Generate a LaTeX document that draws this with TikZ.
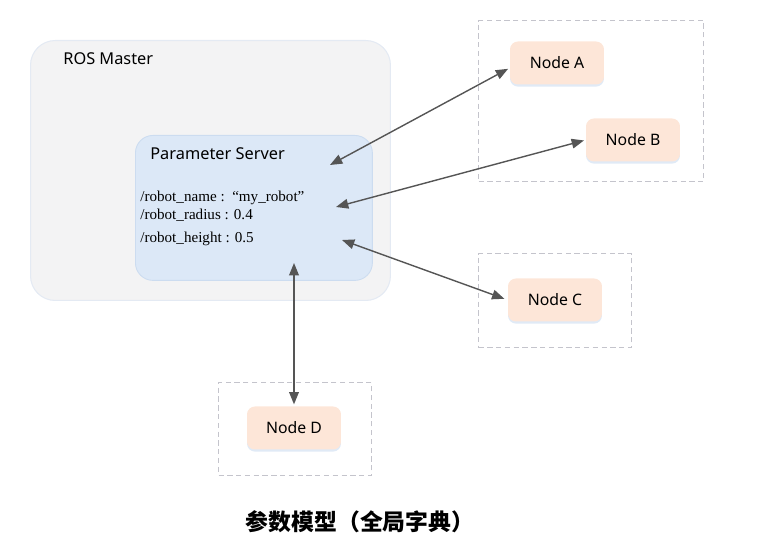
\documentclass[tikz,border=0pt]{standalone}
\usepackage{fontspec}
\setmainfont{Liberation Serif}
\setsansfont{Noto Sans}
\newfontfamily\cjk{Noto Sans CJK SC}
\usetikzlibrary{positioning,arrows.meta,shadows}

\definecolor{masterfill}{HTML}{F3F3F4}
\definecolor{masterline}{HTML}{E4EAF3}
\definecolor{psfill}{HTML}{DCE8F7}
\definecolor{psline}{HTML}{CCDCF0}
\definecolor{nodefill}{HTML}{FDE6D8}
\definecolor{groupline}{HTML}{C4C4CC}
\definecolor{linkcolor}{HTML}{555555}

\begin{document}
\begin{tikzpicture}[x=0.02cm,y=-0.02cm,
    master/.style={fill=masterfill,draw=masterline,line width=0.6pt,rounded corners=14pt,anchor=north west},
    pserver/.style={fill=psfill,draw=psline,line width=0.5pt,rounded corners=10pt,anchor=north west},
    title/.style={font=\sffamily\fontsize{9.3}{11}\selectfont,anchor=west,inner sep=0pt},
    param/.style={font=\rmfamily\fontsize{8.6}{10}\selectfont,anchor=base west,inner sep=0pt},
    rosnode/.style={fill=nodefill,rounded corners=4.5pt,minimum width=1.88cm,minimum height=0.86cm,
      font=\sffamily\fontsize{9}{11}\selectfont,
      drop shadow={fill=psline,opacity=0.6,shadow xshift=0pt,shadow yshift=-1.2pt}},
    group/.style={draw=groupline,dash pattern=on 3pt off 2pt,line width=0.6pt,anchor=north west,inner sep=0pt},
    link/.style={draw=linkcolor,line width=0.8pt,{Triangle[length=7pt,width=5.5pt]}-{Triangle[length=7pt,width=5.5pt]}}]

  \useasboundingbox (0,0) rectangle (758,546);

  % ROS master and parameter server
  \node[master,minimum width=7.2cm,minimum height=5.2cm] (master) at (30,40) {};
  \node[title] (mastertitle) at (63,59) {ROS Master};

  \node[pserver,minimum width=4.74cm,minimum height=2.9cm] (ps) at (135,135) {};
  \node[title] (pstitle) at (150,154) {Parameter Server};

  \node[param] (pname)   at (140,202) {/robot\_name :\ \ “my\_robot”};
  \node[param] (pradius) at (140,220) {/robot\_radius : 0.4};
  \node[param] (pheight) at (140,243) {/robot\_height : 0.5};

  % groups
  \node[group,minimum width=4.5cm,minimum height=3.22cm] (groupab) at (478,20) {};
  \node[group,minimum width=3.06cm,minimum height=1.88cm] (groupc) at (478,253) {};
  \node[group,minimum width=3.06cm,minimum height=1.86cm] (groupd) at (218,382) {};

  % nodes
  \node[rosnode] (nodea) at (557,63) {Node A};
  \node[rosnode] (nodeb) at (633,140) {Node B};
  \node[rosnode] (nodec) at (555,300) {Node C};
  \node[rosnode] (noded) at (294,428) {Node D};

  % connector ends inside the server
  \coordinate (psa) at (330,165);
  \coordinate (psb) at (336,207);
  \coordinate (psc) at (342,240);
  \coordinate (psd) at (294,263);

  \draw[link,shorten >=1pt] (psa) -- (nodea.186);
  \draw[link,shorten >=1pt] (psb) -- (nodeb.west);
  \draw[link,shorten >=2pt] (psc) -- (nodec.west);
  \draw[link,shorten >=1pt] (psd) -- (noded.north);

  \node[font=\cjk\bfseries\fontsize{13}{15}\selectfont] (caption) at (360,522) {参数模型（全局字典）};

\end{tikzpicture}
\end{document}
